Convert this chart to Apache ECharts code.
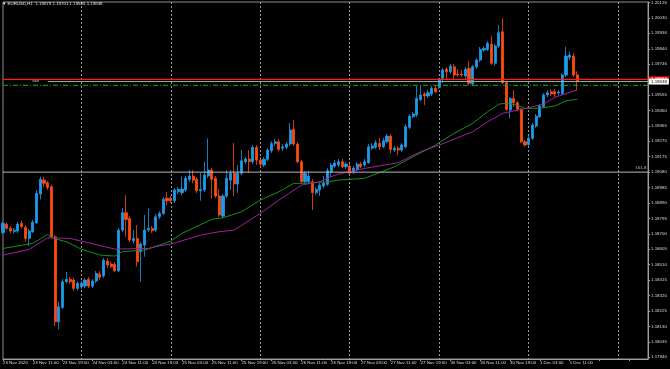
<!DOCTYPE html>
<html><head><meta charset="utf-8">
<script src="https://cdn.jsdelivr.net/npm/echarts@6/dist/echarts.min.js"></script>
<style>html,body{margin:0;padding:0;background:#000;}#c{width:670px;height:369px;}</style>
</head><body><div id="c"></div>
<script>
const symbolName = 'EURUSD,H1';
// H1 bars from 23 Nov 2020 03:00 to 1 Dec 2020 13:00
const openP = [1.18707,1.18758,1.18734,1.18714,1.18717,1.18765,1.18740,1.18672,1.18713,1.18768,
1.18945,1.19031,1.19015,1.18990,1.18682,1.18158,1.18247,1.18405,1.18420,1.18415,
1.18364,1.18374,1.18378,1.18420,1.18378,1.18409,1.18452,1.18440,1.18532,1.18514,
1.18512,1.18472,1.18723,1.18830,1.18795,1.18657,1.18672,1.18590,1.18631,1.18723,
1.18734,1.18723,1.18805,1.18826,1.18919,1.18919,1.18904,1.18959,1.18953,1.18970,
1.19036,1.19056,1.19036,1.18965,1.18970,1.19056,1.19093,1.19042,1.18933,1.18809,
1.18933,1.19031,1.19073,1.19007,1.19073,1.19144,1.19161,1.19144,1.19233,1.19154,
1.19124,1.19159,1.19212,1.19257,1.19267,1.19227,1.19233,1.19253,1.19344,1.19253,
1.19144,1.19021,1.19021,1.19021,1.18953,1.18970,1.18994,1.19005,1.19082,1.19117,
1.19124,1.19144,1.19113,1.19117,1.19082,1.19097,1.19130,1.19124,1.19138,1.19227,
1.19233,1.19257,1.19236,1.19267,1.19302,1.19216,1.19227,1.19216,1.19236,1.19356,
1.19421,1.19432,1.19528,1.19561,1.19549,1.19561,1.19596,1.19602,1.19658,1.19713,
1.19698,1.19729,1.19684,1.19684,1.19672,1.19719,1.19623,1.19729,1.19770,1.19832,
1.19836,1.19867,1.19750,1.19857,1.19945,1.19631,1.19462,1.19534,1.19507,1.19467,
1.19267,1.19251,1.19288,1.19364,1.19421,1.19483,1.19555,1.19575,1.19575,1.19567,
1.19565,1.19678,1.19787,1.19795,1.19679];
const closeP = [1.18765,1.18734,1.18717,1.18723,1.18760,1.18744,1.18672,1.18717,1.18771,1.18949,
1.19036,1.19011,1.18986,1.18682,1.18158,1.18251,1.18405,1.18420,1.18405,1.18364,
1.18395,1.18395,1.18415,1.18378,1.18409,1.18456,1.18432,1.18538,1.18508,1.18497,
1.18472,1.18723,1.18830,1.18789,1.18662,1.18672,1.18528,1.18637,1.18723,1.18734,
1.18719,1.18805,1.18826,1.18912,1.18904,1.18904,1.18970,1.18974,1.18976,1.19042,
1.19056,1.19031,1.18965,1.18974,1.19062,1.19093,1.19036,1.18933,1.18816,1.18933,
1.19042,1.19073,1.19007,1.19073,1.19150,1.19161,1.19144,1.19233,1.19154,1.19130,
1.19159,1.19216,1.19257,1.19267,1.19220,1.19236,1.19253,1.19339,1.19253,1.19144,
1.19021,1.19073,1.19056,1.18953,1.18974,1.19000,1.19013,1.19089,1.19124,1.19136,
1.19144,1.19113,1.19130,1.19073,1.19105,1.19130,1.19113,1.19144,1.19236,1.19241,
1.19261,1.19236,1.19273,1.19302,1.19220,1.19227,1.19216,1.19247,1.19360,1.19425,
1.19438,1.19534,1.19555,1.19549,1.19569,1.19596,1.19575,1.19647,1.19709,1.19698,
1.19733,1.19678,1.19678,1.19678,1.19713,1.19627,1.19729,1.19770,1.19836,1.19842,
1.19873,1.19750,1.19857,1.19939,1.19631,1.19467,1.19534,1.19507,1.19467,1.19267,
1.19247,1.19288,1.19370,1.19425,1.19487,1.19555,1.19569,1.19561,1.19561,1.19573,
1.19678,1.19795,1.19801,1.19678,1.19638];
const lowP = [1.18699,1.18723,1.18705,1.18699,1.18705,1.18736,1.18651,1.18625,1.18705,1.18760,
1.18912,1.18990,1.18970,1.18674,1.18132,1.18112,1.18237,1.18395,1.18391,1.18347,
1.18354,1.18360,1.18366,1.18366,1.18366,1.18397,1.18415,1.18428,1.18489,1.18489,
1.18464,1.18464,1.18711,1.18682,1.18649,1.18643,1.18497,1.18405,1.18559,1.18711,
1.18705,1.18711,1.18791,1.18816,1.18877,1.18890,1.18890,1.18945,1.18939,1.18957,
1.19019,1.19011,1.18951,1.18904,1.18957,1.19044,1.18919,1.18920,1.18803,1.18797,
1.18920,1.18970,1.18933,1.18951,1.19062,1.19130,1.19074,1.19130,1.19124,1.19105,
1.19111,1.19148,1.19198,1.19241,1.19210,1.19210,1.19222,1.19241,1.19241,1.19136,
1.19013,1.19007,1.19007,1.18846,1.18939,1.18933,1.18982,1.18994,1.19050,1.19105,
1.19111,1.19105,1.19099,1.19062,1.19068,1.19087,1.19105,1.19111,1.19130,1.19216,
1.19222,1.19216,1.19228,1.19259,1.19196,1.19204,1.19185,1.19204,1.19228,1.19345,
1.19413,1.19419,1.19518,1.19493,1.19536,1.19549,1.19567,1.19592,1.19629,1.19647,
1.19684,1.19647,1.19666,1.19666,1.19653,1.19616,1.19610,1.19715,1.19758,1.19820,
1.19826,1.19740,1.19733,1.19844,1.19623,1.19456,1.19411,1.19483,1.19456,1.19259,
1.19236,1.19227,1.19278,1.19352,1.19413,1.19475,1.19542,1.19549,1.19542,1.19555,
1.19555,1.19666,1.19770,1.19666,1.19585];
const highP = [1.18779,1.18773,1.18748,1.18736,1.18773,1.18781,1.18754,1.18729,1.18785,1.18970,
1.19052,1.19052,1.19025,1.19000,1.18692,1.18282,1.18421,1.18466,1.18434,1.18428,
1.18409,1.18409,1.18428,1.18434,1.18421,1.18471,1.18471,1.18551,1.18551,1.18526,
1.18526,1.18736,1.18859,1.18939,1.18809,1.18723,1.18754,1.18649,1.18816,1.18857,
1.18748,1.18822,1.18840,1.18927,1.18959,1.18933,1.18982,1.18988,1.19052,1.19056,
1.19093,1.19093,1.19050,1.19073,1.19144,1.19288,1.19105,1.19056,1.18976,1.18945,
1.19093,1.19093,1.19259,1.19124,1.19216,1.19173,1.19216,1.19247,1.19247,1.19173,
1.19173,1.19228,1.19271,1.19284,1.19284,1.19253,1.19265,1.19382,1.19401,1.19265,
1.19154,1.19087,1.19087,1.19037,1.18988,1.19013,1.19056,1.19105,1.19136,1.19154,
1.19161,1.19161,1.19142,1.19130,1.19117,1.19142,1.19142,1.19161,1.19253,1.19259,
1.19278,1.19290,1.19290,1.19315,1.19315,1.19241,1.19241,1.19259,1.19376,1.19438,
1.19450,1.19610,1.19616,1.19573,1.19586,1.19610,1.19610,1.19660,1.19721,1.19727,
1.19746,1.19746,1.19715,1.19709,1.19727,1.19764,1.19740,1.19783,1.19851,1.19857,
1.19887,1.19918,1.19869,1.19986,1.20027,1.19641,1.19542,1.19586,1.19518,1.19475,
1.19278,1.19302,1.19382,1.19438,1.19499,1.19567,1.19586,1.19592,1.19592,1.19586,
1.19690,1.19852,1.19822,1.19814,1.19701];
const totalSlots = 174; // bars + empty chart shift on the right
const xTickLabels = ['23 Nov 2020','23 Nov 11:00','23 Nov 19:00','24 Nov 03:00','24 Nov 11:00','24 Nov 19:00',
'25 Nov 03:00','25 Nov 11:00','25 Nov 19:00','26 Nov 03:00','26 Nov 11:00','26 Nov 19:00',
'27 Nov 03:00','27 Nov 11:00','27 Nov 19:00','30 Nov 03:00','30 Nov 11:00','30 Nov 19:00',
'1 Dec 03:00','1 Dec 11:00'];
const dayStartIndex = [21,45,69,93,117,141,165];
const yTickValues = [1.20126,1.20030,1.19936,1.19840,1.19746,1.19555,1.19460,1.19365,1.19270,1.19175,
1.19080,1.18985,1.18890,1.18795,1.18700,1.18605,1.18510,1.18415,1.18320,1.18225,1.18130,1.18035,1.17940];
const yMin = 1.17929, yMax = 1.20128;
const greenMA = [[0,1.18610],[8,1.18641],[12,1.18697],[13,1.18676],[17,1.18651],[21,1.18606],[26,1.18569],
[30,1.18563],[32,1.18590],[38,1.18600],[42,1.18631],[45,1.18655],[48,1.18703],[56,1.18789],[59,1.18799],
[64,1.18836],[69,1.18908],[74,1.18959],[78,1.19011],[81,1.19011],[87,1.19021],[90,1.19031],[97,1.19042],
[105,1.19113],[110,1.19175],[116,1.19247],[121,1.19319],[126,1.19381],[130,1.19452],[133,1.19499],
[135,1.19504],[138,1.19493],[140,1.19473],[144,1.19473],[148,1.19487],[151,1.19520],[154,1.19528]];
const magentaMA = [[0,1.18569],[7,1.18604],[12,1.18676],[18,1.18672],[21,1.18655],[30,1.18606],[39,1.18610],
[42,1.18626],[45,1.18637],[53,1.18692],[58,1.18713],[62,1.18723],[69,1.18826],[74,1.18908],[80,1.19000],
[85,1.19021],[88,1.19052],[90,1.19068],[97,1.19103],[106,1.19138],[112,1.19206],[117,1.19247],[126,1.19329],
[130,1.19390],[134,1.19442],[138,1.19462],[141,1.19477],[145,1.19499],[148,1.19541],[154,1.19586]];
const askPrice = 1.19652, bidPrice = 1.19638, sellPrice = 1.19615, fibPrice = 1.19080;
const fibLabel = '161.8', sellLabel = 'sell';
const bidLineStart = 12, sellLabelAt = 8;

const cats = Array.from({length: totalSlots}, (_, i) => String(i));
const candles = openP.map((o, i) => [o, closeP[i], lowP[i], highP[i]]);
const last = openP.length - 1;
const endIdx = totalSlots - 1;
const FS = 4.4, FF = 'Liberation Sans';
const NOCOLOR = 'rgba(0,0,0,0)';

// horizontal level drawn as a plain line series between two category positions
function level(color, type, width, data, z, endLabel) {
  const s = {
    type: 'line', data: data, z: z, showSymbol: true, showAllSymbol: true, symbol: 'circle', symbolSize: 1,
    silent: true, clip: false,
    lineStyle: {color: color, width: width, type: type},
    itemStyle: {color: NOCOLOR, borderWidth: 0},
    emphasis: {disabled: true}
  };
  if (endLabel) s.endLabel = endLabel;
  return s;
}

const chart = echarts.init(document.getElementById('c'), null, {renderer: 'canvas'});
chart.setOption({
  backgroundColor: '#000',
  animation: false,
  textStyle: {fontFamily: FF},
  title: {
    text: '\u25BC ' + symbolName + '  ' + [openP[last], highP[last], lowP[last], closeP[last]].map(v => v.toFixed(5)).join(' '),
    left: 2, top: 2, padding: 0,
    textStyle: {color: '#e6e6e6', fontSize: FS, fontWeight: 'normal', fontFamily: FF}
  },
  grid: {left: 2, right: 22, top: 2, bottom: 10, show: true, borderColor: '#8c8c8c', borderWidth: 1},
  xAxis: {
    type: 'category', data: cats, boundaryGap: false,
    axisLine: {lineStyle: {color: '#a0a0a0', width: 1}},
    axisTick: {show: true, interval: 7, length: 2, lineStyle: {color: '#a0a0a0'}},
    axisLabel: {interval: 7, align: 'left', margin: 2, fontSize: FS, color: '#dcdcdc', fontFamily: FF,
      formatter: (v, idx) => xTickLabels[idx / 8] || ''},
    splitLine: {show: true, interval: (idx) => dayStartIndex.includes(idx),
      lineStyle: {color: '#9a9a9a', type: [2, 2], width: 1}}
  },
  yAxis: {
    type: 'value', position: 'right', min: yMin, max: yMax,
    axisLine: {show: true, lineStyle: {color: '#a0a0a0', width: 1}},
    axisTick: {show: true, length: 2, customValues: yTickValues, lineStyle: {color: '#a0a0a0'}},
    axisLabel: {customValues: yTickValues, formatter: v => v.toFixed(5), fontSize: FS, color: '#dcdcdc', margin: 3, fontFamily: FF},
    splitLine: {show: false}
  },
  series: [
    {
      type: 'candlestick', data: candles, barWidth: 2.6, z: 2,
      itemStyle: {color: '#1e9be8', color0: '#ff4a12', borderColor: '#1e9be8', borderColor0: '#ff4a12', borderWidth: 0.8}
    },
    {type: 'line', data: greenMA, showSymbol: false, symbol: 'none', lineStyle: {color: '#12921a', width: 1}, z: 3},
    {type: 'line', data: magentaMA, showSymbol: false, symbol: 'none', lineStyle: {color: '#a021a0', width: 1}, z: 3},
    level('#b8b8b8', 'solid', 1, [
      [0, fibPrice],
      {value: [endIdx, fibPrice], label: {show: true, position: [-1, -6], align: 'right', verticalAlign: 'top',
        formatter: fibLabel, color: '#c0c0c0', fontSize: FS, fontFamily: FF}}
    ], 4),
    level('#18b018', [5, 2, 1, 2], 1, [
      [0, sellPrice],
      {value: [sellLabelAt, sellPrice], label: {show: true, position: [0, -5.5], align: 'left', verticalAlign: 'top',
        formatter: sellLabel, color: '#d8d8d8', fontSize: FS, fontFamily: FF}},
      [endIdx, sellPrice]
    ], 4),
    level('#ff1a1a', 'solid', 1.3, [[0, askPrice], [endIdx, askPrice]], 5,
      {show: true, formatter: askPrice.toFixed(5), color: '#ffffff', backgroundColor: '#ee0000',
        fontSize: FS, padding: [1, 2, 1, 2], distance: 1, fontFamily: FF}),
    level('#a8a8a8', 'solid', 1, [[bidLineStart, bidPrice], [endIdx, bidPrice]], 6,
      {show: true, formatter: bidPrice.toFixed(5), color: '#000000', backgroundColor: '#ffffff',
        fontSize: FS, padding: [1, 2, 1, 2], distance: 1, fontFamily: FF})
  ]
});
</script></body></html>
